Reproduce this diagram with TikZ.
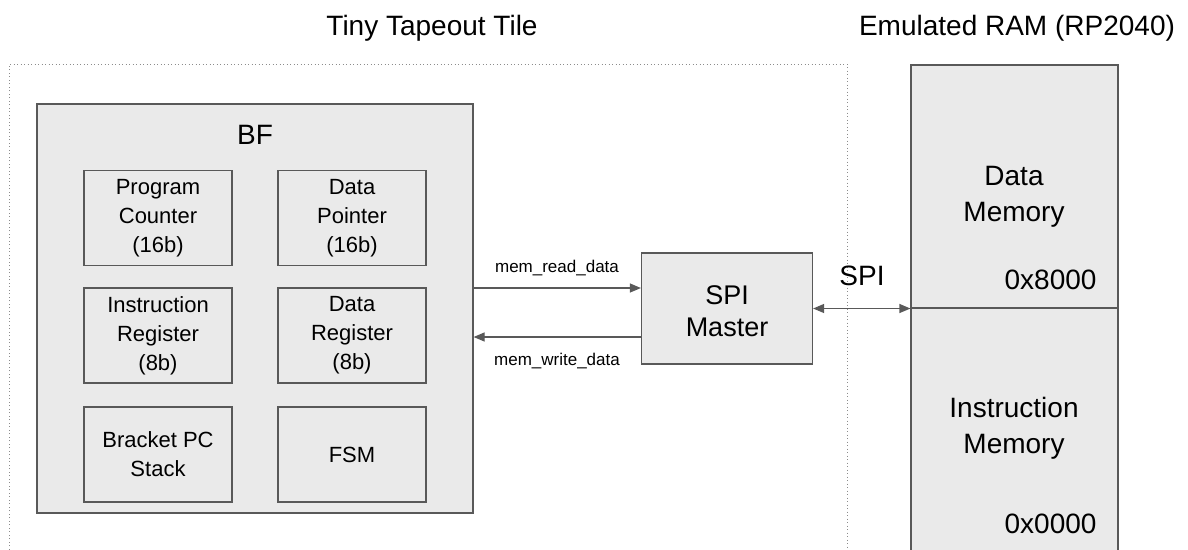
\documentclass[tikz,border=0pt]{standalone}
\usepackage{fontspec}
\setmainfont{Liberation Sans}
\usetikzlibrary{arrows.meta}

\definecolor{boxfill}{RGB}{234,234,234}
\definecolor{boxline}{RGB}{89,89,89}
\definecolor{tileline}{RGB}{140,140,140}

\begin{document}
\begin{tikzpicture}[x=1pt, y=-1pt,
                    block/.style={rectangle, draw=boxline, fill=boxfill, line width=1.2pt, inner sep=0pt},
                    regbox/.style={block, minimum width=148pt, minimum height=95pt, align=center, font=\fontsize{22}{29}\selectfont},
                    bigtext/.style={font=\fontsize{28}{36}\selectfont, align=center},
                    sigtext/.style={font=\fontsize{17}{20}\selectfont, anchor=base},
                    bus/.style={-{Triangle[length=11pt, width=9pt]}, draw=boxline, line width=1.2pt},
                    tile/.style={draw=tileline, line width=1pt, dash pattern=on 1pt off 2.5pt}]

    \useasboundingbox (0,0) rectangle (1188,549);

    % titles
    \node[bigtext, anchor=base] (ttlabel)  at (432,35)  {Tiny Tapeout Tile};
    \node[bigtext, anchor=base] (ramlabel) at (1017,35) {Emulated RAM (RP2040)};

    % tile outline, open at the bottom
    \draw[tile] (9,560) -- (9,64) -- (847,64) -- (847,560);

    % BF core
    \node[block, minimum width=436pt, minimum height=409pt] (bf) at (255,308.5) {};
    \node[bigtext, anchor=base] (bflabel) at (255,144) {BF};

    \node[regbox] (pc)  at (158,218)   {Program\\Counter\\(16b)};
    \node[regbox] (dp)  at (352,218)   {Data\\Pointer\\(16b)};
    \node[regbox] (ir)  at (158,335.5) {Instruction\\Register\\(8b)};
    \node[regbox] (dr)  at (352,335.5) {Data\\Register\\(8b)};
    \node[regbox] (bpc) at (158,454.5) {Bracket PC\\Stack};
    \node[regbox] (fsm) at (352,454.5) {FSM};

    % SPI master
    \node[block, minimum width=171pt, minimum height=111pt] (spi) at (727,308.5) {};
    \node[align=center, font=\fontsize{27}{32}\selectfont] (spitext) at (727,311.5) {SPI\\Master};

    \draw[bus] ([yshift=20.5pt]bf.east) -- ([yshift=20.5pt]spi.west);
    \draw[bus] ([yshift=-28.5pt]spi.west) -- ([yshift=-28.5pt]bf.east);
    \node[sigtext] (rdlabel) at (557,272) {mem\_read\_data};
    \node[sigtext] (wrlabel) at (557,365) {mem\_write\_data};

    % emulated RAM
    \node[block, minimum width=207pt, minimum height=243pt] (dmem) at (1014.5,186.5) {};
    \node[block, minimum width=207pt, minimum height=292pt] (imem) at (1014.5,454)   {};

    \node[bigtext] (dmemlabel) at (1014,197) {Data\\Memory};
    \node[bigtext] (imemlabel) at (1014,428) {Instruction\\Memory};
    \node[bigtext, anchor=base east] (dtop) at (1100,289) {0x8000};
    \node[bigtext, anchor=base east] (itop) at (1100,533) {0x0000};

    \draw[bus, {Triangle[length=11pt, width=9pt]}-{Triangle[length=11pt, width=9pt]}] (spi.east) -- (spi.east -| dmem.west);
    \node[bigtext, anchor=base] (spilabel) at (862,285) {SPI};

\end{tikzpicture}
\end{document}
